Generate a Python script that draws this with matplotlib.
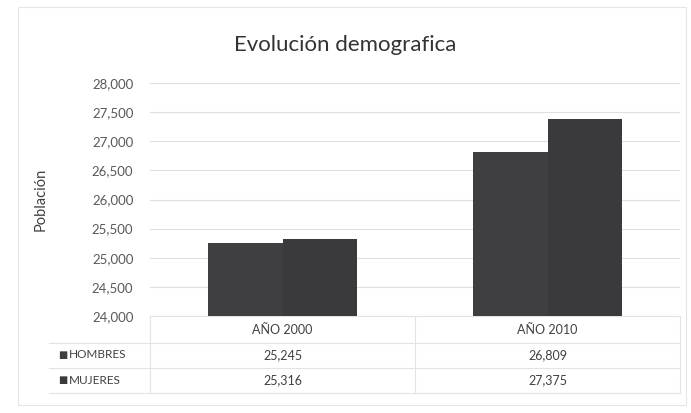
import matplotlib
matplotlib.use("Agg")
import matplotlib.pyplot as plt
import matplotlib.transforms as mtransforms
from matplotlib.lines import Line2D
from matplotlib.patches import Rectangle
import numpy as np

plt.rcParams['font.family'] = ['Lato', 'DejaVu Sans']

categories = ["AÑO 2000", "AÑO 2010"]
series_names = ["HOMBRES", "MUJERES"]
hombres = [25245, 26809]
mujeres = [25316, 27375]
yticks = [24000, 24500, 25000, 25500, 26000, 26500, 27000, 27500, 28000]
title = "Evolución demografica"
ylabel = "Población"

colors = ["#3f3e40", "#3a393b"]
W, H = 691, 413
fig = plt.figure(figsize=(W / 100, H / 100), dpi=100)
ax = fig.add_axes([150 / W, (H - 316) / H, 530 / W, 233 / H])

x = np.arange(len(categories))
bw = 0.28
for i, (vals, c) in enumerate(zip([hombres, mujeres], colors)):
    ax.bar(x + (i - 0.5) * bw, [v - yticks[0] for v in vals], bw,
           bottom=yticks[0], color=c, zorder=3)

ax.set_xlim(-0.5, len(categories) - 0.5)
ax.set_ylim(yticks[0], yticks[-1])
ax.set_yticks(yticks)
ax.set_yticklabels([f"{t:,}" for t in yticks], fontsize=9.5, color="#595959")
ax.set_xticks([])
ax.tick_params(axis='y', length=0, pad=12)
ax.grid(axis='y', color="#e0e0e0", linewidth=0.8, zorder=0)
for s in ax.spines.values():
    s.set_visible(False)
ax.set_ylabel(ylabel, fontsize=10.5, color="#404040")
ax.yaxis.set_label_coords((48 - 150) / 530, 0.5)
fig.text(0.5, 1 - 45 / H, title, ha='center', va='center', fontsize=16, color="#333333")

# data table
trans = mtransforms.blended_transform_factory(ax.transData, ax.transAxes)
row_y = [-0.06, -0.167, -0.275]
for xi, cat in zip(x, categories):
    ax.text(xi, row_y[0], cat, transform=trans, ha='center', va='center',
            fontsize=9, color="#404040", clip_on=False)
for r, vals in enumerate([hombres, mujeres]):
    for xi, v in zip(x, vals):
        ax.text(xi, row_y[r + 1], f"{v:,}", transform=trans, ha='center', va='center',
                fontsize=9, color="#404040", clip_on=False)
for r, (name, c) in enumerate(zip(series_names, colors)):
    yv = row_y[r + 1]
    ax.text(-0.5 - 0.345, yv, "■", transform=trans, ha='left', va='center',
            fontsize=7, color=c, clip_on=False, family=['DejaVu Sans'])
    ax.text(-0.5 - 0.305, yv, name, transform=trans, ha='left', va='center',
            fontsize=8.5, color="#404040", clip_on=False)

gridc = "#e3e3e3"
for yy, x0 in [(0.0, -0.5), (-0.115, -0.88), (-0.222, -0.88), (-0.33, -0.88)]:
    ax.add_line(Line2D([x0, len(categories) - 0.5], [yy, yy], transform=trans,
                       color=gridc, linewidth=0.8, clip_on=False))
for xv in [-0.5, 0.5, 1.5]:
    ax.add_line(Line2D([xv, xv], [0, -0.33], transform=trans,
                       color=gridc, linewidth=0.8, clip_on=False))

fig.patches.append(Rectangle((18 / W, 8 / H), 668 / W, 398 / H, transform=fig.transFigure,
                             fill=False, edgecolor="#e6e6e6", linewidth=0.8))

fig.savefig("out.png", dpi=100)
